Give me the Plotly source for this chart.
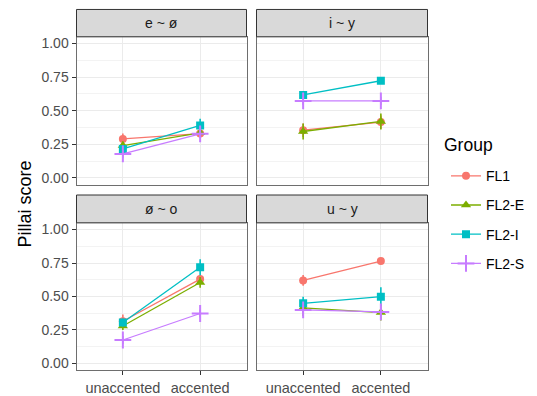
import plotly.graph_objects as go

# ---------------- data ----------------
panels = ["e ~ ø", "i ~ y", "ø ~ o", "u ~ y"]
conditions = ["unaccented", "accented"]
groups = ["FL1", "FL2-E", "FL2-I", "FL2-S"]

# means, ordered panel by panel: (unaccented, accented) for each panel
fl1_mean = [0.29, 0.33, 0.355, 0.415, 0.315, 0.63, 0.62, 0.765]
fl2e_mean = [0.24, 0.335, 0.345, 0.42, 0.28, 0.605, 0.415, 0.38]
fl2i_mean = [0.215, 0.39, 0.617, 0.723, 0.306, 0.719, 0.449, 0.499]
fl2s_mean = [0.178, 0.328, 0.573, 0.573, 0.175, 0.373, 0.40, 0.385]

# half-widths of the error ranges
fl1_err = [0.04, 0.02, 0.05, 0.05, 0.05, 0.03, 0.04, 0.02]
fl2e_err = [0.03, 0.02, 0.06, 0.06, 0.03, 0.04, 0.06, 0.06]
fl2i_err = [0.03, 0.05, 0.02, 0.02, 0.03, 0.06, 0.05, 0.07]
fl2s_err = [0.03, 0.03, 0.03, 0.03, 0.03, 0.03, 0.03, 0.04]

y_ticks = [0.0, 0.25, 0.5, 0.75, 1.0]
y_ticklabels = ["0.00", "0.25", "0.50", "0.75", "1.00"]

# ---------------- styling ----------------
means = [fl1_mean, fl2e_mean, fl2i_mean, fl2s_mean]
errs = [fl1_err, fl2e_err, fl2i_err, fl2s_err]
colors = ["#F8766D", "#7CAE00", "#00BFC4", "#C77CFF"]
symbols = ["circle", "triangle-up", "square", "cross-thin"]
msizes = [8, 9, 8, 12]

W, H = 537, 396
FONT = "Liberation Sans, Arial, sans-serif"
xdom_px = [(76.5, 246.5), (256.5, 427.5)]
ydom_px = [(36, 184.5), (223, 371)]
strip_px = [(8.5, 36), (195, 223)]


def fx(p):
    return p / W


def fy(p):
    return 1 - p / H


fig = go.Figure()
xpos = list(range(1, len(conditions) + 1))

for gi, g in enumerate(groups):
    for k in range(len(panels)):
        suf = "" if k == 0 else str(k + 1)
        sym = symbols[gi]
        marker = dict(symbol=sym, size=msizes[gi], color=colors[gi])
        if sym == "cross-thin":
            marker["line"] = dict(color=colors[gi], width=2)
        fig.add_trace(go.Scatter(
            x=xpos,
            y=means[gi][2 * k:2 * k + 2],
            error_y=dict(type="data", array=errs[gi][2 * k:2 * k + 2],
                         width=0, thickness=1.6, color=colors[gi]),
            mode="lines+markers",
            line=dict(color=colors[gi], width=1.3),
            marker=marker,
            name=g,
            legendgroup=g,
            showlegend=(k == 0),
            xaxis="x" + suf,
            yaxis="y" + suf,
        ))

layout = dict(
    width=W, height=H,
    margin=dict(l=0, r=0, t=0, b=0),
    paper_bgcolor="white",
    plot_bgcolor="white",
    font=dict(family=FONT, color="#000000"),
    showlegend=True,
    legend=dict(
        x=fx(446), y=fy(160), xanchor="left", yanchor="top",
        font=dict(size=14, color="#000000"),
        tracegroupgap=8,
        itemwidth=30,
        bgcolor="rgba(0,0,0,0)",
    ),
)

shapes = []
annotations = []
for k, name in enumerate(panels):
    r, c = divmod(k, 2)
    suf = "" if k == 0 else str(k + 1)
    xd = [fx(xdom_px[c][0]), fx(xdom_px[c][1])]
    yd = [fy(ydom_px[r][1]), fy(ydom_px[r][0])]
    layout["xaxis" + suf] = dict(
        domain=xd, range=[0.4, 2.6], anchor="y" + suf,
        tickvals=xpos, ticktext=conditions if r == 1 else ["", ""],
        showticklabels=(r == 1),
        ticks="outside" if r == 1 else "", ticklen=4, tickcolor="#333333",
        showgrid=True, gridcolor="#EBEBEB", gridwidth=1.1,
        zeroline=False, showline=True, mirror=True,
        linecolor="#6E6E6E", linewidth=1,
        tickfont=dict(size=14.5, color="#4D4D4D", family=FONT),
    )
    layout["yaxis" + suf] = dict(
        domain=yd, range=[-0.05, 1.05], anchor="x" + suf,
        tickvals=y_ticks, ticktext=y_ticklabels,
        showticklabels=(c == 0),
        ticks="outside" if c == 0 else "", ticklen=4, tickcolor="#333333",
        showgrid=True, gridcolor="#EBEBEB", gridwidth=1.1,
        minor=dict(dtick=0.125, tick0=0.125, showgrid=True,
                   gridcolor="#F3F3F3", gridwidth=0.6, ticks=""),
        zeroline=False, showline=True, mirror=True,
        linecolor="#6E6E6E", linewidth=1,
        tickfont=dict(size=14, color="#4D4D4D", family=FONT),
    )
    # strip
    shapes.append(dict(
        type="rect", xref="paper", yref="paper",
        x0=xd[0], x1=xd[1], y0=fy(strip_px[r][1]), y1=fy(strip_px[r][0]),
        fillcolor="#D9D9D9", line=dict(color="#333333", width=1), layer="above",
    ))
    annotations.append(dict(
        text=name, xref="paper", yref="paper",
        x=(xd[0] + xd[1]) / 2, y=fy((strip_px[r][0] + strip_px[r][1]) / 2),
        xanchor="center", yanchor="middle", showarrow=False,
        font=dict(size=14, color="#1A1A1A", family=FONT),
    ))

annotations.append(dict(
    text="Pillai score", xref="paper", yref="paper",
    x=fx(25), y=fy(204.5), xanchor="center", yanchor="middle",
    textangle=-90, showarrow=False,
    font=dict(size=18, color="#000000", family=FONT),
))
annotations.append(dict(
    text="Group", xref="paper", yref="paper",
    x=fx(442), y=fy(145), xanchor="left", yanchor="middle",
    showarrow=False,
    font=dict(size=17.5, color="#000000", family=FONT),
))

layout["shapes"] = shapes
layout["annotations"] = annotations
fig.update_layout(**layout)

fig.write_html("out.html", config={"displayModeBar": False},
               post_script="document.body.style.margin='0px';")
